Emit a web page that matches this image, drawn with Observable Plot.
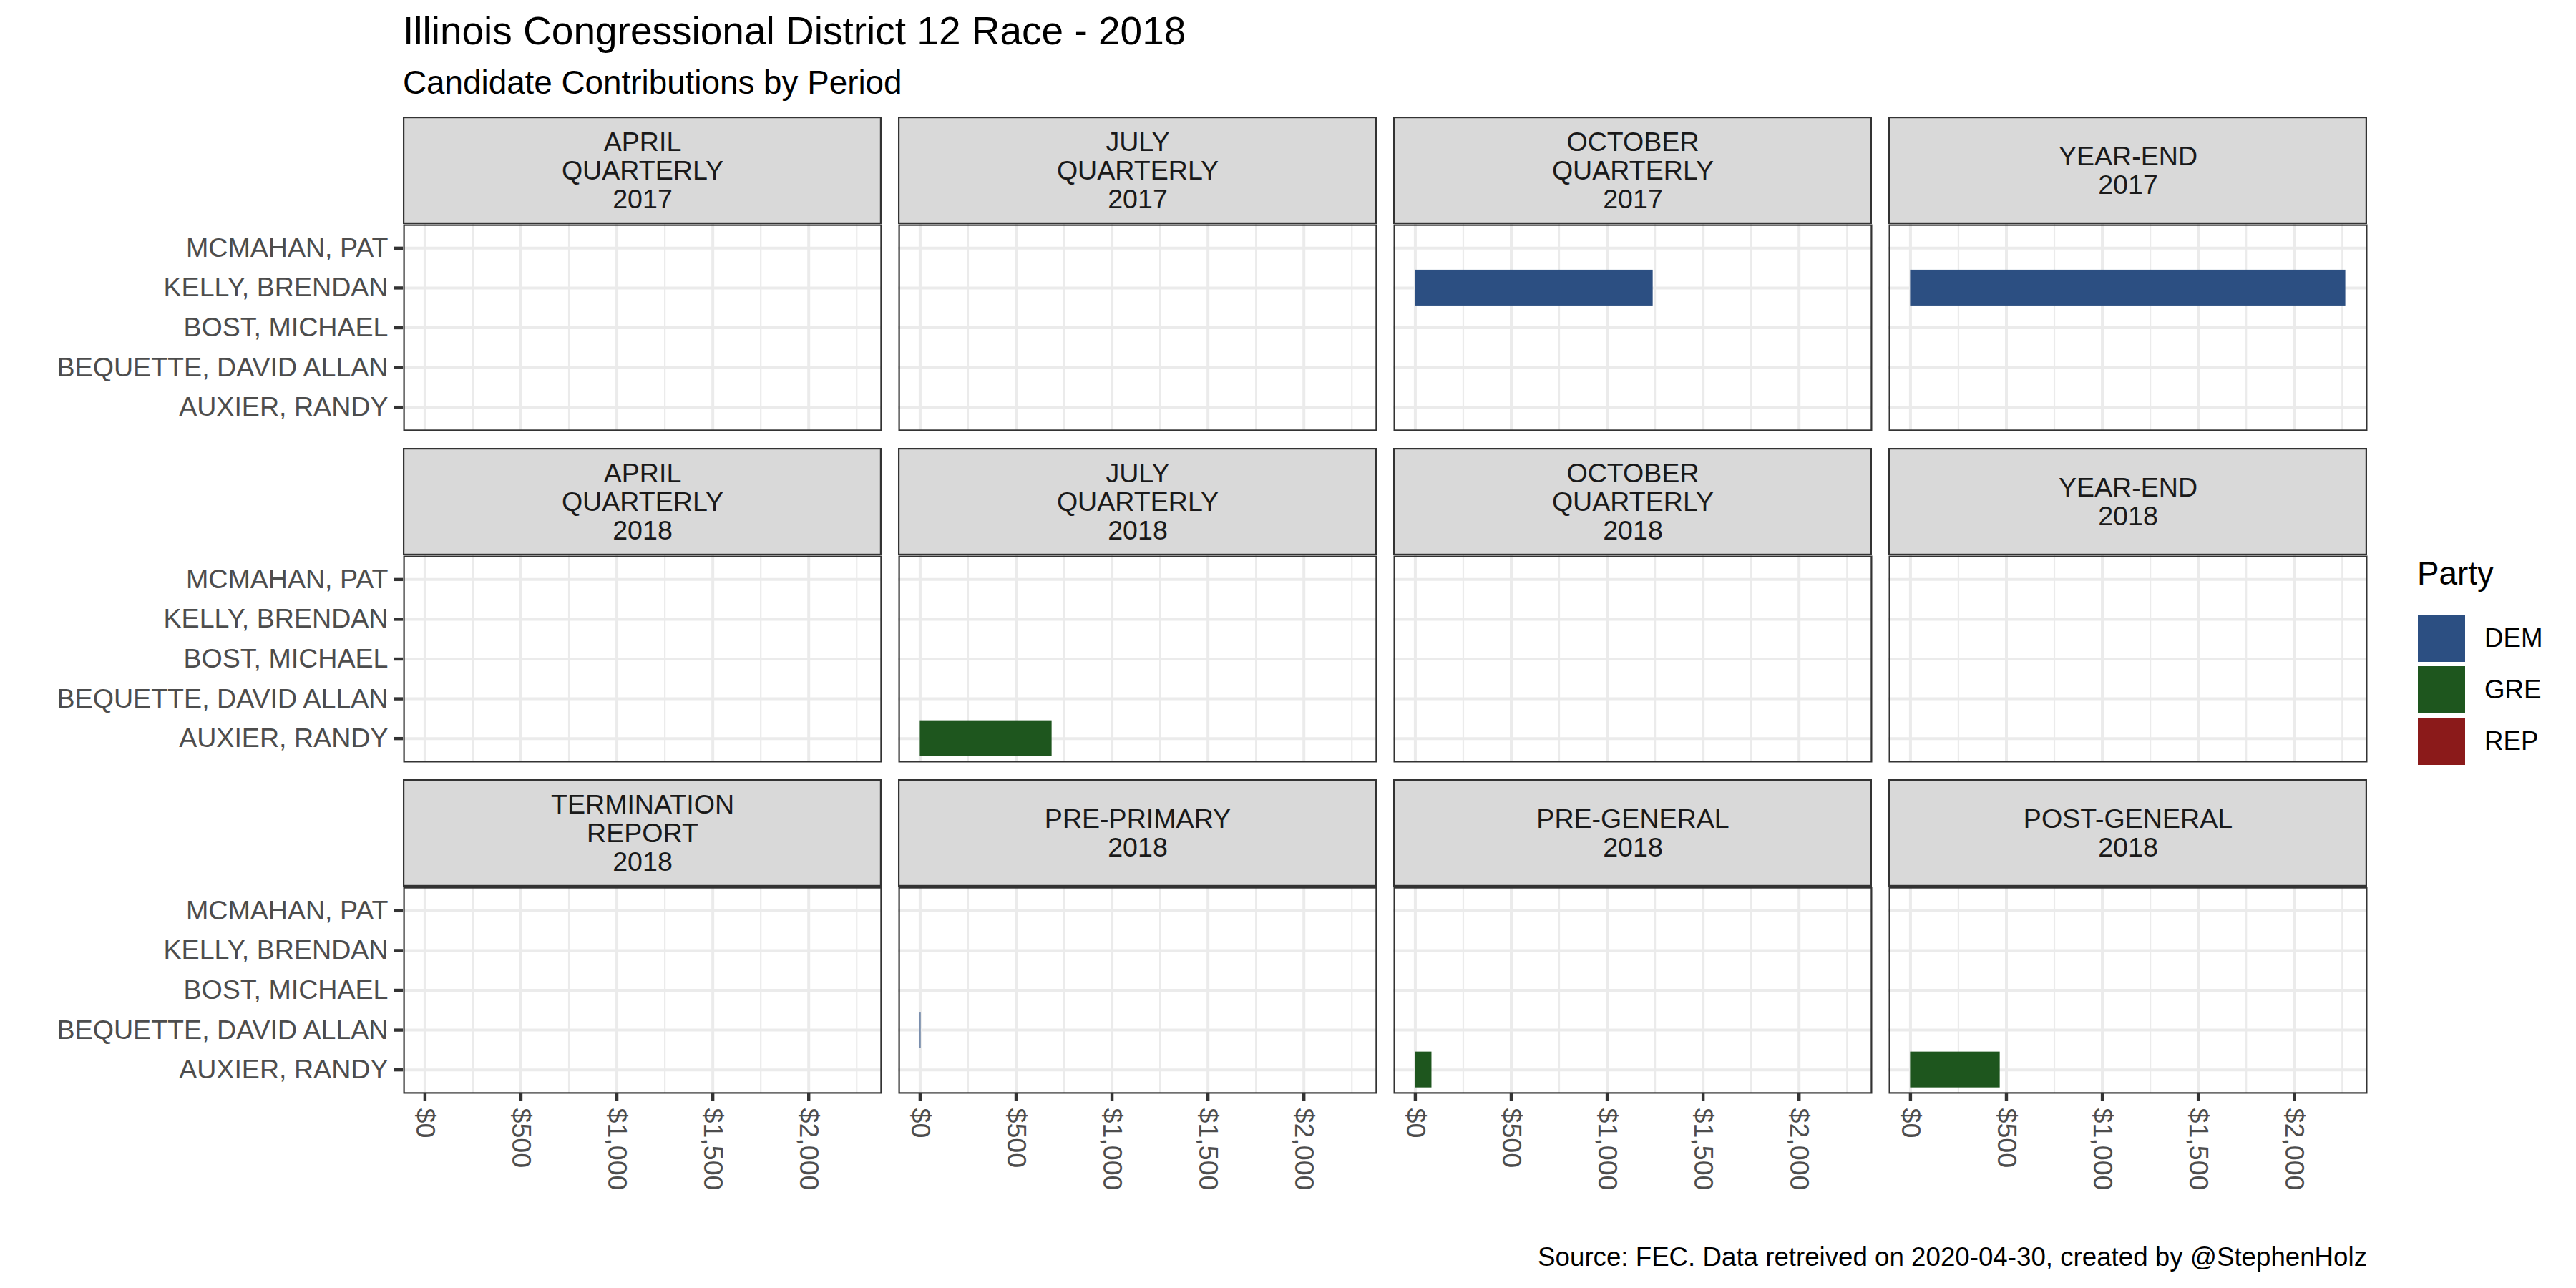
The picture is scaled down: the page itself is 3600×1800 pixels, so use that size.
<!DOCTYPE html>
<html>
<head>
<meta charset="utf-8">
<script src="https://cdn.jsdelivr.net/npm/d3@7"></script>
<script src="https://cdn.jsdelivr.net/npm/@observablehq/plot@0.6"></script>
<style>
  html, body { margin: 0; padding: 0; background: #ffffff; }
  #page { position: relative; width: 3600px; height: 1800px; background: #ffffff; overflow: hidden;
          font-family: "Liberation Sans", Arial, sans-serif; }
  .abs { position: absolute; white-space: nowrap; line-height: 1; }
  #title { left: 563px; top: 16px; font-size: 55px; color: #000000; }
  #subtitle { left: 563px; top: 93px; font-size: 45.8px; color: #000000; }
  #caption { right: 292px; top: 1739px; font-size: 36.7px; color: #000000; }
  #chart { position: absolute; left: 0; top: 163px; }
  #legend { position: absolute; left: 3378px; top: 779px; }
  #legend .ltitle { font-size: 45.8px; line-height: 1; color: #000; margin-bottom: 31px; }
  #legend .item { display: flex; align-items: center; height: 72px; }
  #legend .sw { width: 66px; height: 66px; margin-left: 1px; }
  #legend .lab { font-size: 36.7px; margin-left: 27px; color: #000; }
</style>
</head>
<body>
<div id="page">
  <div id="title" class="abs">Illinois Congressional District 12 Race - 2018</div>
  <div id="subtitle" class="abs">Candidate Contributions by Period</div>
  <div id="chart"></div>
  <div id="legend"></div>
  <div id="caption" class="abs">Source: FEC. Data retreived on 2020-04-30, created by @StephenHolz</div>
</div>
<script>
// ---- data ----
const periodLabels = [
  "APRIL\nQUARTERLY\n2017", "JULY\nQUARTERLY\n2017", "OCTOBER\nQUARTERLY\n2017", "YEAR-END\n2017",
  "APRIL\nQUARTERLY\n2018", "JULY\nQUARTERLY\n2018", "OCTOBER\nQUARTERLY\n2018", "YEAR-END\n2018",
  "TERMINATION\nREPORT\n2018", "PRE-PRIMARY\n2018", "PRE-GENERAL\n2018", "POST-GENERAL\n2018"
];
const candidates = ["MCMAHAN, PAT", "KELLY, BRENDAN", "BOST, MICHAEL", "BEQUETTE, DAVID ALLAN", "AUXIER, RANDY"];
const parties = ["DEM", "GRE", "REP"];
const partyColors = ["#2C4F82", "#1E561E", "#8B1A1A"];

const contribPeriod = [
  "OCTOBER\nQUARTERLY\n2017", "YEAR-END\n2017", "JULY\nQUARTERLY\n2018",
  "PRE-PRIMARY\n2018", "PRE-GENERAL\n2018", "POST-GENERAL\n2018"
];
const contribCandidate = ["KELLY, BRENDAN", "KELLY, BRENDAN", "AUXIER, RANDY", "BEQUETTE, DAVID ALLAN", "AUXIER, RANDY", "AUXIER, RANDY"];
const contribParty = ["DEM", "DEM", "GRE", "DEM", "GRE", "GRE"];
const contribAmount = [1239, 2268, 687, 4, 86, 467];

const xTicks = [0, 500, 1000, 1500, 2000];
const xMinorTicks = [250, 750, 1250, 1750, 2250];

// ---- layout constants ----
const nCols = 4;
const panelW = 669, colGap = 23;
const panelH = 289, stripH = 150, rowGap = 24;
const mTop = stripH, mLeft = 563, mRight = 292, mBottom = 272;
const svgH = 1637;
const smallFont = 37.6;

// ---- tables ----
const panels = periodLabels.map((label, i) => ({label, col: i % nCols, row: Math.floor(i / nCols)}));
const records = contribAmount.map((amount, i) => {
  const p = periodLabels.indexOf(contribPeriod[i]);
  return {amount, candidate: contribCandidate[i], party: contribParty[i], col: p % nCols, row: Math.floor(p / nCols)};
});
const xMax = d3.max(contribAmount);

const chart = Plot.plot({
  width: 3600,
  height: svgH,
  marginTop: mTop, marginBottom: mBottom, marginLeft: mLeft, marginRight: mRight,
  style: {fontFamily: "'Liberation Sans', Arial, sans-serif", fontSize: smallFont + "px", background: "#ffffff", overflow: "visible"},
  fx: {domain: d3.range(nCols), paddingInner: colGap / (panelW + colGap), paddingOuter: 0, axis: null, round: false},
  fy: {domain: d3.range(3), paddingInner: (stripH + rowGap) / (panelH + stripH + rowGap), paddingOuter: 0, axis: null, round: false},
  x: {domain: [-0.05 * xMax, 1.05 * xMax]},
  y: {domain: candidates, paddingInner: 0.1, paddingOuter: 0.15, round: false},
  color: {domain: parties, range: partyColors},
  marks: [
    Plot.gridX({ticks: xMinorTicks, stroke: "#EBEBEB", strokeOpacity: 1, strokeWidth: 2.2}),
    Plot.gridX({ticks: xTicks, stroke: "#EBEBEB", strokeOpacity: 1, strokeWidth: 4}),
    Plot.gridY({ticks: candidates, stroke: "#EBEBEB", strokeOpacity: 1, strokeWidth: 4}),
    Plot.barX(records, {x: "amount", y: "candidate", fill: "party", fx: "col", fy: "row"}),
    Plot.frame({stroke: "#333333", strokeWidth: 2.2, inset: 1.1}),
    Plot.rect(panels, {
      fx: "col", fy: "row", fill: "#D9D9D9", stroke: "#333333", strokeWidth: 2.2,
      insetTop: -stripH + 1.1, insetBottom: panelH + 1.1, insetLeft: 1.1, insetRight: 1.1
    }),
    Plot.text(panels, {
      fx: "col", fy: "row", text: "label", frameAnchor: "top", dy: -stripH / 2,
      lineAnchor: "middle", lineHeight: 1.06, fill: "#1A1A1A", fontSize: smallFont
    }),
    Plot.axisY({tickSize: 12, tickPadding: 9, label: null, fill: "#4D4D4D", stroke: "#333333", strokeWidth: 4.4, fontSize: smallFont}),
    Plot.axisX({
      ticks: xTicks, tickFormat: d3.format("$,"), tickRotate: 90, tickSize: 11, tickPadding: 9,
      label: null, fill: "#4D4D4D", stroke: "#333333", strokeWidth: 4.4, fontSize: smallFont
    })
  ]
});
document.getElementById("chart").appendChild(chart);

// ---- legend from the plot's color scale ----
const colorScale = chart.scale("color");
const legend = d3.select("#legend");
legend.append("div").attr("class", "ltitle").text("Party");
for (const p of parties) {
  const item = legend.append("div").attr("class", "item");
  item.append("div").attr("class", "sw").style("background", colorScale.apply(p));
  item.append("div").attr("class", "lab").text(p);
}
</script>
</body>
</html>
